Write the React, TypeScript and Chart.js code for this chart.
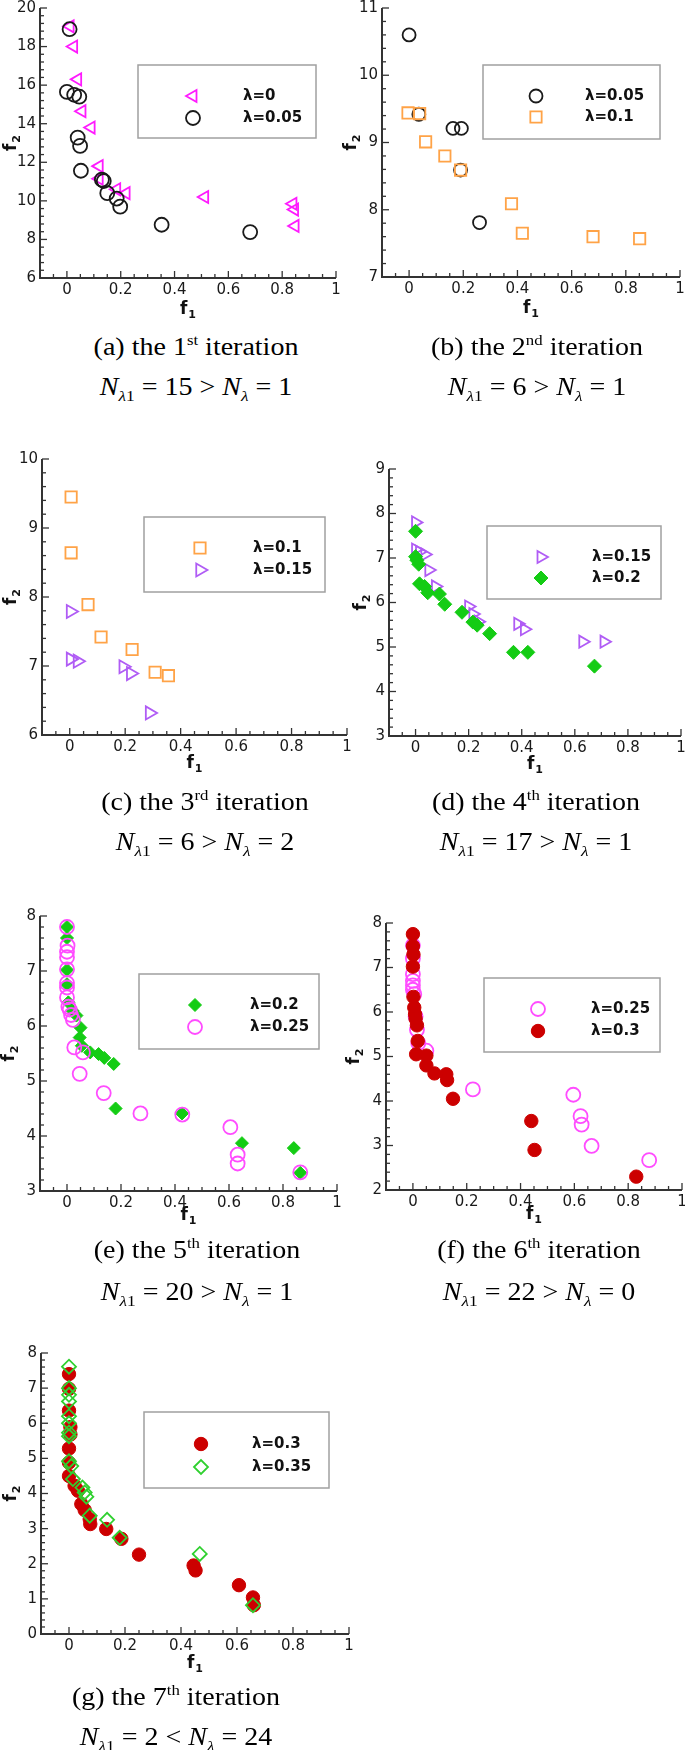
import React, { useEffect, useRef } from 'react';
import { Chart, registerables } from 'chart.js';

Chart.register(...registerables);

// ---------------- data ----------------
const X_MIN = -0.1;
const X_MAX = 1;
const X_TICKS = [0, 0.2, 0.4, 0.6, 0.8, 1];
const Y_TICKS_A = [6, 8, 10, 12, 14, 16, 18, 20];
const Y_TICKS_B = [7, 8, 9, 10, 11];
const Y_TICKS_C = [6, 7, 8, 9, 10];
const Y_TICKS_D = [3, 4, 5, 6, 7, 8, 9];
const Y_TICKS_E = [3, 4, 5, 6, 7, 8];
const Y_TICKS_F = [2, 3, 4, 5, 6, 7, 8];
const Y_TICKS_G = [0, 1, 2, 3, 4, 5, 6, 7, 8];

const PANEL_LETTERS = ['a', 'b', 'c', 'd', 'e', 'f', 'g'];
const ITER_NUM = ['1', '2', '3', '4', '5', '6', '7'];
const ITER_SUFFIX = ['st', 'nd', 'rd', 'th', 'th', 'th', 'th'];
const N_LAMBDA1 = [15, 6, 6, 17, 20, 22, 2];
const N_LAMBDA = [1, 1, 2, 1, 1, 0, 24];
const RELATION = ['>', '>', '>', '>', '>', '>', '<'];

// (a) 1st iteration
const A_L000 = [[0.012, 19.05], [0.025, 18.0], [0.04, 16.3], [0.056, 14.65], [0.09, 13.8], [0.12, 11.8], [0.12, 11.15], [0.185, 10.6], [0.22, 10.4], [0.512, 10.2], [0.84, 9.85], [0.846, 9.55], [0.848, 8.7]];
const A_L005 = [[0.01, 18.9], [0.0, 15.65], [0.027, 15.5], [0.046, 15.4], [0.04, 13.28], [0.049, 12.85], [0.052, 11.56], [0.13, 11.1], [0.137, 11.03], [0.15, 10.4], [0.185, 10.12], [0.198, 9.7], [0.352, 8.76], [0.681, 8.38]];
// (b) 2nd iteration
const B_L005 = [[0.0, 10.6], [0.036, 9.42], [0.162, 9.21], [0.193, 9.21], [0.19, 8.59], [0.26, 7.81]];
const B_L010 = [[-0.004, 9.44], [0.039, 9.43], [0.061, 9.01], [0.132, 8.8], [0.19, 8.59], [0.378, 8.09], [0.418, 7.65], [0.679, 7.6], [0.851, 7.57]];
// (c) 3rd iteration
const C_L010 = [[0.005, 9.45], [0.005, 8.64], [0.066, 7.89], [0.113, 7.42], [0.225, 7.24], [0.308, 6.91], [0.356, 6.86]];
const C_L015 = [[0.003, 7.79], [0.003, 7.1], [0.028, 7.07], [0.193, 6.99], [0.22, 6.89], [0.288, 6.32]];
// (d) 4th iteration
const D_L015 = [[0.0, 7.8], [0.0, 7.19], [0.015, 7.14], [0.035, 7.08], [0.05, 6.73], [0.075, 6.36], [0.2, 5.91], [0.216, 5.74], [0.236, 5.57], [0.385, 5.52], [0.41, 5.4], [0.63, 5.12], [0.71, 5.12]];
const D_L020 = [[0, 7.6], [0, 7.03], [0.005, 6.95], [0.012, 6.86], [0.015, 6.42], [0.034, 6.36], [0.046, 6.22], [0.09, 6.19], [0.11, 5.96], [0.175, 5.78], [0.216, 5.56], [0.232, 5.49], [0.279, 5.3], [0.369, 4.88], [0.423, 4.88], [0.674, 4.57]];
// (e) 5th iteration
const E_L020 = [[0, 7.8], [0, 7.6], [0, 7.02], [0, 6.76], [0.005, 6.43], [0.02, 6.28], [0.035, 6.19], [0.05, 5.97], [0.047, 5.79], [0.055, 5.64], [0.086, 5.52], [0.117, 5.49], [0.138, 5.42], [0.173, 5.31], [0.18, 4.5], [0.426, 4.41], [0.648, 3.87], [0.84, 3.78], [0.864, 3.33]];
const E_L025 = [[0, 7.8], [0.002, 7.46], [0, 7.35], [0, 7.25], [0, 7.03], [0, 6.78], [0, 6.7], [0, 6.52], [0.005, 6.35], [0.01, 6.3], [0.015, 6.2], [0.022, 6.11], [0.027, 5.61], [0.059, 5.52], [0.047, 5.13], [0.136, 4.78], [0.272, 4.41], [0.427, 4.39], [0.605, 4.16], [0.632, 3.66], [0.632, 3.5], [0.864, 3.34]];
// (f) 6th iteration
const F_L025 = [[0, 7.5], [0, 7.2], [0, 6.85], [0, 6.7], [0, 6.6], [0, 6.5], [0.005, 6.4], [0.01, 5.9], [0.015, 5.6], [0.02, 5.3], [0.05, 5.13], [0.223, 4.26], [0.596, 4.14], [0.623, 3.66], [0.627, 3.47], [0.664, 2.99], [0.878, 2.67]];
const F_L030 = [[0, 7.75], [0, 7.48], [0.002, 7.29], [0, 7.02], [0.002, 6.34], [0.005, 6.1], [0.008, 5.95], [0.01, 5.85], [0.015, 5.7], [0.018, 5.35], [0.012, 5.05], [0.05, 5.02], [0.05, 4.8], [0.08, 4.62], [0.124, 4.6], [0.127, 4.47], [0.149, 4.05], [0.44, 3.55], [0.452, 2.9], [0.83, 2.3]];
// (g) 7th iteration
const G_L030 = [[0, 7.4], [0, 6.98], [0, 6.36], [0.005, 5.89], [0.005, 5.68], [0, 5.28], [0, 4.88], [0, 4.5], [0.02, 4.22], [0.032, 4.08], [0.044, 3.7], [0.056, 3.53], [0.074, 3.27], [0.076, 3.13], [0.133, 2.99], [0.187, 2.71], [0.25, 2.26], [0.445, 1.95], [0.452, 1.81], [0.607, 1.39], [0.657, 1.04], [0.66, 0.82]];
const G_L035 = [[0, 7.61], [0, 7.0], [0, 6.81], [0, 6.62], [0, 6.2], [0, 6.0], [0, 5.73], [0, 5.63], [0, 4.92], [0.008, 4.78], [0.014, 4.41], [0.048, 4.17], [0.056, 4.03], [0.062, 3.91], [0.074, 3.37], [0.136, 3.25], [0.181, 2.74], [0.467, 2.28], [0.657, 0.82]];

// ---------------- styles ----------------
const STYLES: any = {
  l000: { label: 'λ=0', color: '#ff1aff', shape: 'triangle', rot: -90, fill: false },
  l005: { label: 'λ=0.05', color: '#1a1a1a', shape: 'circle', rot: 0, fill: false },
  l010: { label: 'λ=0.1', color: '#ffa347', shape: 'rect', rot: 0, fill: false },
  l015: { label: 'λ=0.15', color: '#b05cf5', shape: 'triangle', rot: 90, fill: false },
  l020: { label: 'λ=0.2', color: '#14cc14', shape: 'rectRot', rot: 0, fill: true },
  l025: { label: 'λ=0.25', color: '#ff4cff', shape: 'circle', rot: 0, fill: false },
  l030: { label: 'λ=0.3', color: '#cc0000', shape: 'circle', rot: 0, fill: true },
  l035: { label: 'λ=0.35', color: '#2fd02f', shape: 'rectRot', rot: 0, fill: false },
};

const TICK_FONT = '"DejaVu Sans", "Liberation Sans", Arial, sans-serif';
const AXIS_COLOR = '#333333';
const LABEL_COLOR = '#1a1a1a';

const PANELS: any[] = [
  { series: [{ data: A_L000, st: 'l000', r: 7 }, { data: A_L005, st: 'l005', r: 7 }], yTicks: Y_TICKS_A,
    area: { l: 40, t: 7, r: 336, b: 278 }, yTitleX: 10, xTitleDy: 30,
    legend: { l: 138, t: 65, r: 316, b: 138, mx: 193, tx: 243, rows: [96, 118] }, cap: { cx: 196, y1: 347, y2: 387 } },
  { series: [{ data: B_L005, st: 'l005', r: 6.5 }, { data: B_L010, st: 'l010', r: 8 }], yTicks: Y_TICKS_B,
    area: { l: 382, t: 7, r: 680, b: 277 }, yTitleX: 350, xTitleDy: 30,
    legend: { l: 483, t: 65, r: 660, b: 139, mx: 536, tx: 585, rows: [96, 117] }, cap: { cx: 537, y1: 347, y2: 387 } },
  { series: [{ data: C_L010, st: 'l010', r: 8 }, { data: C_L015, st: 'l015', r: 7.5 }], yTicks: Y_TICKS_C,
    area: { l: 42, t: 458, r: 347, b: 735 }, yTitleX: 10, xTitleDy: 27,
    legend: { l: 144, t: 517, r: 325, b: 592, mx: 200, tx: 253, rows: [548, 570] }, cap: { cx: 205, y1: 802, y2: 842 } },
  { series: [{ data: D_L015, st: 'l015', r: 7 }, { data: D_L020, st: 'l020', r: 7 }], yTicks: Y_TICKS_D,
    area: { l: 389, t: 468, r: 681, b: 736 }, yTitleX: 360, xTitleDy: 27,
    legend: { l: 487, t: 526, r: 661, b: 599, mx: 541, tx: 592, rows: [557, 578] }, cap: { cx: 536, y1: 802, y2: 842 } },
  { series: [{ data: E_L020, st: 'l020', r: 6.5 }, { data: E_L025, st: 'l025', r: 7 }], yTicks: Y_TICKS_E,
    area: { l: 40, t: 915, r: 337, b: 1191 }, yTitleX: 8, xTitleDy: 23,
    legend: { l: 139, t: 974, r: 319, b: 1049, mx: 195, tx: 250, rows: [1005, 1027] }, cap: { cx: 197, y1: 1250, y2: 1292 } },
  { series: [{ data: F_L025, st: 'l025', r: 7 }, { data: F_L030, st: 'l030', r: 6.7 }], yTicks: Y_TICKS_F,
    area: { l: 386, t: 922, r: 682, b: 1190 }, yTitleX: 353, xTitleDy: 23,
    legend: { l: 484, t: 978, r: 660, b: 1052, mx: 538, tx: 591, rows: [1009, 1031] }, cap: { cx: 539, y1: 1250, y2: 1292 } },
  { series: [{ data: G_L030, st: 'l030', r: 6.7 }, { data: G_L035, st: 'l035', r: 7 }], yTicks: Y_TICKS_G,
    area: { l: 41, t: 1352, r: 349, b: 1634 }, yTitleX: 10, xTitleDy: 28,
    legend: { l: 144, t: 1412, r: 329, b: 1488, mx: 201, tx: 252, rows: [1444, 1467] }, cap: { cx: 176, y1: 1697, y2: 1737 } },
];

// ---------------- helpers ----------------
function drawMarker(ctx: CanvasRenderingContext2D, st: any, x: number, y: number, r: number) {
  ctx.beginPath();
  if (st.shape === 'circle') {
    ctx.arc(x, y, r, 0, Math.PI * 2);
  } else if (st.shape === 'rect') {
    const s = r * Math.SQRT1_2;
    ctx.rect(x - s, y - s, 2 * s, 2 * s);
  } else if (st.shape === 'rectRot') {
    ctx.moveTo(x - r, y);
    ctx.lineTo(x, y - r);
    ctx.lineTo(x + r, y);
    ctx.lineTo(x, y + r);
    ctx.closePath();
  } else {
    let rad = (st.rot * Math.PI) / 180;
    ctx.moveTo(x + Math.sin(rad) * r, y - Math.cos(rad) * r);
    rad += (2 * Math.PI) / 3;
    ctx.lineTo(x + Math.sin(rad) * r, y - Math.cos(rad) * r);
    rad += (2 * Math.PI) / 3;
    ctx.lineTo(x + Math.sin(rad) * r, y - Math.cos(rad) * r);
    ctx.closePath();
  }
  if (st.fill) {
    ctx.fillStyle = st.color;
    ctx.fill();
    ctx.lineWidth = 1;
  } else {
    ctx.lineWidth = 1.8;
  }
  ctx.strokeStyle = st.color;
  ctx.stroke();
}

function drawSubText(ctx: CanvasRenderingContext2D, main: string, sub: string, cx: number, cy: number) {
  const mainFont = `bold 17px ${TICK_FONT}`;
  const subFont = `bold 11px ${TICK_FONT}`;
  ctx.font = mainFont;
  const w1 = ctx.measureText(main).width;
  ctx.font = subFont;
  const w2 = ctx.measureText(sub).width;
  const x0 = cx - (w1 + w2 + 1) / 2;
  const base = cy + 6;
  ctx.fillStyle = '#111';
  ctx.textAlign = 'left';
  ctx.textBaseline = 'alphabetic';
  ctx.font = mainFont;
  ctx.fillText(main, x0, base);
  ctx.font = subFont;
  ctx.fillText(sub, x0 + w1 + 1, base + 4);
}

const YW = 50;
const PT = 12;
const PR = 16;
const XH = 52;

function Panel({ cfg }: { cfg: any }) {
  const ref = useRef<HTMLCanvasElement>(null);
  const a = cfg.area;
  const cl = a.l - YW;
  const ct = a.t - PT;
  const cw = a.r - a.l + YW + PR;
  const ch = a.b - a.t + PT + XH;

  useEffect(() => {
    const yTicks: number[] = cfg.yTicks;
    const yMin = yTicks[0];
    const yMax = yTicks[yTicks.length - 1];
    const yMajor = yTicks[1] - yTicks[0];

    const decor = {
      id: 'decor',
      beforeDatasetsDraw(chart: any) {
        const { ctx, chartArea: ca } = chart;
        const xs = chart.scales.x;
        const ys = chart.scales.y;
        ctx.save();
        ctx.strokeStyle = AXIS_COLOR;
        ctx.lineWidth = 2;
        ctx.beginPath();
        ctx.moveTo(ca.left, ca.top);
        ctx.lineTo(ca.left, ca.bottom);
        ctx.lineTo(ca.right, ca.bottom);
        ctx.stroke();
        ctx.lineWidth = 1.3;
        // y ticks (inward)
        const ny = Math.round((yMax - yMin) / (yMajor / 5));
        for (let i = 0; i <= ny; i++) {
          const v = yMin + (i * yMajor) / 5;
          const py = ys.getPixelForValue(v);
          const len = i % 5 === 0 ? 7 : 4;
          ctx.beginPath();
          ctx.moveTo(ca.left, py);
          ctx.lineTo(ca.left + len, py);
          ctx.stroke();
        }
        // x ticks (inward)
        const nx = Math.round((X_MAX - X_MIN) / 0.05);
        for (let i = 0; i <= nx; i++) {
          const v = X_MIN + i * 0.05;
          const px = xs.getPixelForValue(v);
          const q = v / 0.2;
          const major = Math.abs(q - Math.round(q)) < 1e-6;
          const len = major ? 7 : 4;
          ctx.beginPath();
          ctx.moveTo(px, ca.bottom);
          ctx.lineTo(px, ca.bottom - len);
          ctx.stroke();
        }
        ctx.restore();
      },
      afterDraw(chart: any) {
        const { ctx, chartArea: ca } = chart;
        ctx.save();
        // axis titles
        drawSubText(ctx, 'f', '1', (ca.left + ca.right) / 2, ca.bottom + cfg.xTitleDy);
        ctx.save();
        ctx.translate(cfg.yTitleX - cl, (ca.top + ca.bottom) / 2);
        ctx.rotate(-Math.PI / 2);
        drawSubText(ctx, 'f', '2', 0, 0);
        ctx.restore();
        // legend
        const lg = cfg.legend;
        ctx.fillStyle = '#ffffff';
        ctx.fillRect(lg.l - cl, lg.t - ct, lg.r - lg.l, lg.b - lg.t);
        ctx.strokeStyle = '#a0a0a0';
        ctx.lineWidth = 1.5;
        ctx.strokeRect(lg.l - cl, lg.t - ct, lg.r - lg.l, lg.b - lg.t);
        cfg.series.forEach((s: any, i: number) => {
          const st = STYLES[s.st];
          const y = lg.rows[i] - ct;
          drawMarker(ctx, st, lg.mx - cl, y, s.r);
          ctx.fillStyle = '#111';
          ctx.font = `bold 15px ${TICK_FONT}`;
          ctx.textAlign = 'left';
          ctx.textBaseline = 'middle';
          ctx.fillText(st.label, lg.tx - cl, y);
        });
        ctx.restore();
      },
    };

    const datasets = cfg.series.map((s: any, i: number) => {
      const st = STYLES[s.st];
      const bg = st.fill ? st.color : 'rgba(0,0,0,0)';
      return {
        label: st.label,
        data: s.data.map((p: number[]) => ({ x: p[0], y: p[1] })),
        pointStyle: st.shape,
        pointRotation: st.rot,
        pointRadius: s.r,
        pointHoverRadius: s.r,
        pointBorderWidth: st.fill ? 1 : 1.8,
        pointBackgroundColor: bg,
        pointBorderColor: st.color,
        backgroundColor: bg,
        borderColor: st.color,
        showLine: false,
        clip: false,
        order: cfg.series.length - i,
      };
    });

    const tickFont = { family: TICK_FONT, size: 15 };
    const chart = new Chart(ref.current as HTMLCanvasElement, {
      type: 'scatter',
      data: { datasets },
      options: {
        responsive: false,
        animation: false,
        events: [],
        layout: { padding: { left: 0, top: PT, right: PR, bottom: 0 } },
        plugins: { legend: { display: false }, tooltip: { enabled: false }, title: { display: false } },
        scales: {
          x: {
            type: 'linear',
            position: 'bottom',
            min: X_MIN,
            max: X_MAX,
            afterBuildTicks: (s: any) => { s.ticks = X_TICKS.map((v) => ({ value: v })); },
            afterFit: (s: any) => { s.height = XH; },
            grid: { display: false, drawTicks: false, tickLength: 0 },
            border: { display: false },
            ticks: { font: tickFont, color: LABEL_COLOR, padding: 3, maxRotation: 0, autoSkip: false, callback: (v: any) => String(v) },
          },
          y: {
            type: 'linear',
            position: 'left',
            min: yMin,
            max: yMax,
            afterBuildTicks: (s: any) => { s.ticks = yTicks.map((v) => ({ value: v })); },
            afterFit: (s: any) => { s.width = YW; },
            grid: { display: false, drawTicks: false, tickLength: 0 },
            border: { display: false },
            ticks: { font: tickFont, color: LABEL_COLOR, padding: 4, autoSkip: false, callback: (v: any) => String(v) },
          },
        },
      } as any,
      plugins: [decor],
    } as any);
    return () => chart.destroy();
  }, [cfg]);

  return (
    <canvas
      ref={ref}
      width={cw}
      height={ch}
      style={{ position: 'absolute', left: cl, top: ct, width: cw, height: ch }}
    />
  );
}

const SERIF = '"Liberation Serif", "Times New Roman", Times, serif';

function Caption({ i, cfg }: { i: number; cfg: any }) {
  const c = cfg.cap;
  const base: any = {
    position: 'absolute',
    left: c.cx - 170,
    width: 340,
    height: 30,
    lineHeight: '30px',
    textAlign: 'center',
    fontFamily: SERIF,
    fontSize: 25,
    color: '#000',
    whiteSpace: 'nowrap',
    transform: 'scaleX(1.12)',
    transformOrigin: 'center',
  };
  const sup: any = { fontSize: '0.6em', verticalAlign: '0.65em', lineHeight: 0 };
  const sub: any = { fontSize: '0.62em', verticalAlign: '-0.4em', lineHeight: 0 };
  return (
    <>
      <div style={{ ...base, top: c.y1 - 15 }}>
        ({PANEL_LETTERS[i]}) the {ITER_NUM[i]}<span style={sup}>{ITER_SUFFIX[i]}</span> iteration
      </div>
      <div style={{ ...base, top: c.y2 - 15 }}>
        <i>N</i><span style={sub}><i>λ</i>1</span> = {N_LAMBDA1[i]} {RELATION[i]} <i>N</i><span style={sub}><i>λ</i></span> = {N_LAMBDA[i]}
      </div>
    </>
  );
}

export default function App() {
  return (
    <div style={{ position: 'absolute', left: 0, top: 0, width: 685, height: 1750, background: '#ffffff', overflow: 'hidden' }}>
      {PANELS.map((p, i) => (
        <Panel key={'p' + i} cfg={p} />
      ))}
      {PANELS.map((p, i) => (
        <Caption key={'c' + i} i={i} cfg={p} />
      ))}
    </div>
  );
}
